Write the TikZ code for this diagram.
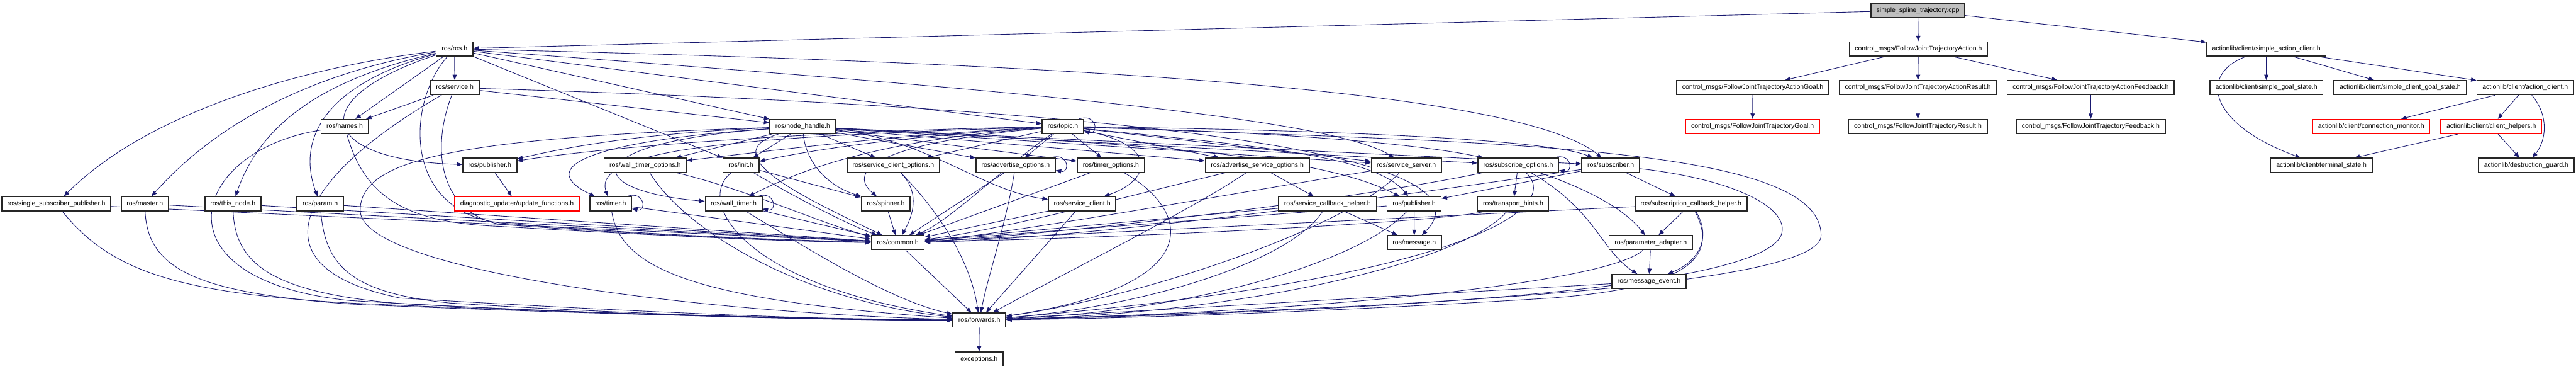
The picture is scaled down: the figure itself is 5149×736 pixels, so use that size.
\documentclass[tikz,border=0pt]{standalone}
\usepackage{fontspec}
\setmainfont{Liberation Sans}
\usetikzlibrary{arrows.meta,calc}
\definecolor{edgeblue}{HTML}{191970}
\pgfdeclarelayer{bg}
\pgfsetlayers{bg,main}
\begin{document}
\begin{tikzpicture}[x=0.25pt,y=0.25pt,
  box/.style={draw=black!85, line width=0.55pt, fill=white, minimum height=7pt, inner xsep=2.75pt, inner ysep=0pt,
    font=\fontsize{3.3pt}{4pt}\selectfont, text height=2.45pt, text depth=0.7pt},
  redbox/.style={box, draw=red},
  rootbox/.style={box, fill=black!25},
  e/.style={draw=edgeblue, line width=0.28pt, -{Triangle[length=2.7pt,width=2.1pt]}},
]
\useasboundingbox (0,0) rectangle (5149,-736);
% ---------- nodes ----------
\node[rootbox] (root) at (3833.5,-20.5) {simple\_spline\_trajectory.cpp};
\node[box] (ros) at (908.5,-97.5) {ros/ros.h};
\node[box] (fjta) at (3834.5,-97.5) {control\_msgs/FollowJointTrajectoryAction.h};
\node[box] (sac) at (4530,-97.5) {actionlib/client/simple\_action\_client.h};
\node[box] (service) at (909,-175) {ros/service.h};
\node[box] (agoal) at (3503.5,-175) {control\_msgs/FollowJointTrajectoryActionGoal.h};
\node[box] (aresult) at (3833.5,-175) {control\_msgs/FollowJointTrajectoryActionResult.h};
\node[box] (afeed) at (4179,-175) {control\_msgs/FollowJointTrajectoryActionFeedback.h};
\node[box] (sgs) at (4530,-175) {actionlib/client/simple\_goal\_state.h};
\node[box] (scgs) at (4797.5,-175) {actionlib/client/simple\_client\_goal\_state.h};
\node[box] (ac) at (5047.5,-175) {actionlib/client/action\_client.h};
\node[box] (names) at (689,-252.5) {ros/names.h};
\node[box] (nh) at (1604.5,-252.5) {ros/node\_handle.h};
\node[box] (topic) at (2124.5,-252.5) {ros/topic.h};
\node[redbox] (goal) at (3503,-252.5) {control\_msgs/FollowJointTrajectoryGoal.h};
\node[box] (result) at (3833.5,-252.5) {control\_msgs/FollowJointTrajectoryResult.h};
\node[box] (feed) at (4179,-252.5) {control\_msgs/FollowJointTrajectoryFeedback.h};
\node[redbox] (cm) at (4739.5,-252.5) {actionlib/client/connection\_monitor.h};
\node[redbox] (ch) at (4979.5,-252.5) {actionlib/client/client\_helpers.h};
\node[box] (pubA) at (979,-330) {ros/publisher.h};
\node[box] (wto) at (1289.5,-330) {ros/wall\_timer\_options.h};
\node[box] (init) at (1481,-330) {ros/init.h};
\node[box] (sco) at (1785.5,-330) {ros/service\_client\_options.h};
\node[box] (ao) at (2030,-330) {ros/advertise\_options.h};
\node[box] (tmo) at (2220.5,-330) {ros/timer\_options.h};
\node[box] (aso) at (2513,-330) {ros/advertise\_service\_options.h};
\node[box] (ss) at (2811,-330) {ros/service\_server.h};
\node[box] (so) at (3034.5,-330) {ros/subscribe\_options.h};
\node[box] (sub) at (3219.5,-330) {ros/subscriber.h};
\node[box] (ts) at (4640,-330) {actionlib/client/terminal\_state.h};
\node[box] (dg) at (5049.5,-330) {actionlib/destruction\_guard.h};
\node[box] (ssp) at (112.5,-407) {ros/single\_subscriber\_publisher.h};
\node[box] (master) at (289.5,-407) {ros/master.h};
\node[box] (thisnode) at (465.5,-407) {ros/this\_node.h};
\node[box] (param) at (640,-407) {ros/param.h};
\node[redbox] (diag) at (1033.5,-407) {diagnostic\_updater/update\_functions.h};
\node[box] (timer) at (1220.5,-407) {ros/timer.h};
\node[box] (wt) at (1466.5,-407) {ros/wall\_timer.h};
\node[box] (spinner) at (1770.5,-407) {ros/spinner.h};
\node[box] (sc) at (2163,-407) {ros/service\_client.h};
\node[box] (sch) at (2653.5,-407) {ros/service\_callback\_helper.h};
\node[box] (pubB) at (2826.5,-407) {ros/publisher.h};
\node[box] (th) at (3024.5,-407) {ros/transport\_hints.h};
\node[box] (scbh) at (3380,-407) {ros/subscription\_callback\_helper.h};
\node[box] (common) at (1794.5,-484.5) {ros/common.h};
\node[box] (msg) at (2827,-484.5) {ros/message.h};
\node[box] (pa) at (3299.5,-484.5) {ros/parameter\_adapter.h};
\node[box] (me) at (3296,-562) {ros/message\_event.h};
\node[box] (fwd) at (1957.5,-639) {ros/forwards.h};
\node[box] (exc) at (1957,-717) {exceptions.h};
% ---------- edges ----------
\begin{pgfonlayer}{bg}
\fill[white] (0,0) rectangle (5149,-736);
% top part
\draw[e] (root) -- (ros);
\draw[e] (root) -- (fjta);
\draw[e] (root) -- (sac);
\draw[e] (fjta) -- (agoal);
\draw[e] (fjta) -- (aresult);
\draw[e] (fjta) -- (afeed);
\draw[e] (agoal) -- (goal);
\draw[e] (aresult) -- (result);
\draw[e] (afeed) -- (feed);
\draw[e] (sac) -- (sgs);
\draw[e] (sac) -- (scgs);
\draw[e] (sac) -- (ac);
\draw[e] (sac) .. controls (4390,-150) and (4420,-250) .. (ts);
\draw[e] (ac) -- (cm);
\draw[e] (ac) -- (ch);
\draw[e] (ac) .. controls (5095,-230) and (5090,-280) .. (dg);
\draw[e] (ch) -- (ts);
\draw[e] (ch) -- (dg);
% ros.h
\draw[e] (ros) .. controls (560,-140) and (280,-240) .. (ssp);
\draw[e] (ros) .. controls (600,-150) and (420,-260) .. (master);
\draw[e] (ros) .. controls (640,-160) and (520,-250) .. (thisnode);
\draw[e] (ros) .. controls (660,-165) and (590,-270) .. (param);
\draw[e] (ros) -- (names);
\draw[e] (ros) -- (service);
\draw[e] (ros) .. controls (600,-200) and (640,-320) .. (pubA);
\draw[e] (ros) .. controls (815,-200) and (800,-420) .. (1000,-445) .. controls (1300,-470) and (1600,-480) .. (common);
\draw[e] (ros) -- (init);
\draw[e] (ros) -- (nh);
\draw[e] (ros) -- (topic);
\draw[e] (ros) .. controls (1900,-170) and (2650,-230) .. (ss);
\draw[e] (ros) .. controls (2300,-130) and (3050,-190) .. (sub);
% service.h
\draw[e] (service) -- (names);
\draw[e] (service) -- (nh);
\draw[e] (service) .. controls (2400,-220) and (2990,-320) .. (msg);
\draw[e] (service) .. controls (860,-300) and (880,-425) .. (1000,-448) .. controls (1300,-470) and (1600,-482) .. (common);
\draw[e] (service) .. controls (620,-340) and (480,-530) .. (800,-595) .. controls (1300,-625) and (1700,-640) .. (fwd);
% names.h
\draw[e] (names) .. controls (730,-400) and (820,-445) .. (1000,-452) .. controls (1300,-470) and (1600,-483) .. (common);
\draw[e] (names) .. controls (380,-300) and (300,-560) .. (700,-600) .. controls (1200,-630) and (1700,-640) .. (fwd);
% left row
\draw[e] (ssp) -- (common);
\draw[e] (master) -- (common);
\draw[e] (thisnode) -- (common);
\draw[e] (param) -- (common);
\draw[e] (ssp) .. controls (220,-540) and (350,-585) .. (700,-605) .. controls (1200,-628) and (1700,-637) .. (fwd);
\draw[e] (master) .. controls (295,-540) and (400,-585) .. (700,-607) .. controls (1200,-629) and (1700,-638) .. (fwd);
\draw[e] (thisnode) .. controls (470,-530) and (550,-585) .. (800,-606) .. controls (1250,-630) and (1700,-639) .. (fwd);
\draw[e] (param) .. controls (650,-530) and (700,-585) .. (900,-605) .. controls (1300,-630) and (1700,-640) .. (fwd);
% node_handle.h
\draw[e] (nh) .. controls (1300,-265) and (1150,-290) .. (pubA);
\draw[e] (nh) -- (wto);
\draw[e] (nh) -- (init);
\draw[e] (nh) -- (sco);
\draw[e] (nh) .. controls (1200,-280) and (1060,-330) .. (timer);
\draw[e] (nh) .. controls (1150,-285) and (1160,-380) .. (wt);
\draw[e] (nh) .. controls (1420,-310) and (1620,-400) .. (common);
\draw[e] (nh) .. controls (1610,-320) and (1650,-370) .. (spinner);
\draw[e] (nh) .. controls (900,-275) and (720,-320) .. (720,-420) .. controls (720,-540) and (1400,-625) .. (fwd);
\draw[e] (nh) -- (ao);
\draw[e] (nh) -- (tmo);
\draw[e] (nh) -- (aso);
\draw[e] (nh) -- (ss);
\draw[e] (nh) -- (so);
\draw[e] (nh) -- (sub);
\draw[e] (nh) .. controls (1860,-280) and (1960,-380) .. (sc);
\draw[e] (nh) .. controls (2200,-285) and (2620,-300) .. (pubB);
% topic.h
\draw[e] ($(topic.north east)+(-10,0)$) .. controls +(35,12) and +(30,-6) .. ($(topic.south east)+(0,5)$);
\draw[e] (topic) .. controls (1600,-262) and (1200,-295) .. (pubA);
\draw[e] (topic) .. controls (1800,-268) and (1550,-300) .. (wto);
\draw[e] (topic) .. controls (1800,-272) and (1620,-300) .. (init);
\draw[e] (topic) -- (sco);
\draw[e] (topic) .. controls (1500,-272) and (1180,-295) .. (timer);
\draw[e] (topic) .. controls (1750,-280) and (1600,-340) .. (wt);
\draw[e] (topic) .. controls (1760,-285) and (1690,-340) .. (spinner);
\draw[e] (topic) -- (ao);
\draw[e] (topic) -- (tmo);
\draw[e] (topic) -- (aso);
\draw[e] (topic) -- (ss);
\draw[e] (topic) .. controls (2600,-265) and (2850,-290) .. (so);
\draw[e] (topic) .. controls (2700,-260) and (3100,-280) .. (sub);
\draw[e] (topic) .. controls (2320,-290) and (2300,-360) .. (sc);
\draw[e] (topic) .. controls (2500,-290) and (2750,-310) .. (pubB);
\draw[e] (topic) .. controls (2010,-330) and (1900,-440) .. (common);
\draw[e] (topic) .. controls (3000,-285) and (3640,-290) .. (3640,-470) .. controls (3640,-560) and (3000,-610) .. (fwd);
% row 4
\draw[e] (pubA) -- (diag);
\draw[e] (wto) .. controls (1500,-380) and (1650,-450) .. (common);
\draw[e] (wto) .. controls (1370,-460) and (1600,-600) .. (fwd);
\draw[e] (init) -- (spinner);
\draw[e] (init) .. controls (1600,-400) and (1700,-450) .. (common);
\draw[e] (init) .. controls (1390,-400) and (1480,-570) .. (fwd);
\draw[e] (sco) .. controls (1835,-380) and (1830,-420) .. (common);
\draw[e] (sco) .. controls (1875,-420) and (1940,-520) .. (fwd);
\draw[e] ($(ao.north east)+(-10,0)$) .. controls +(35,12) and +(30,-6) .. ($(ao.south east)+(0,5)$);
\draw[e] (ao) -- (common);
\draw[e] (ao) .. controls (2010,-450) and (1975,-550) .. (fwd);
\draw[e] (tmo) -- (common);
\draw[e] (tmo) .. controls (2380,-420) and (2420,-570) .. (fwd);
\draw[e] (aso) -- (sch);
\draw[e] (aso) .. controls (2300,-380) and (2000,-460) .. (common);
\draw[e] (aso) .. controls (2380,-420) and (2100,-560) .. (fwd);
\draw[e] (ss) .. controls (2500,-380) and (2000,-470) .. (common);
\draw[e] (ss) .. controls (2700,-450) and (2300,-590) .. (fwd);
\draw[e] ($(so.north east)+(-10,0)$) .. controls +(35,12) and +(30,-6) .. ($(so.south east)+(0,5)$);
\draw[e] (so) -- (th);
\draw[e] (so) .. controls (3180,-380) and (3250,-420) .. (pa);
\draw[e] (so) .. controls (3190,-420) and (3200,-500) .. (me);
\draw[e] (so) .. controls (3130,-420) and (2900,-560) .. (fwd);
\draw[e] (so) .. controls (2700,-400) and (2100,-470) .. (common);
\draw[e] (sub) -- (scbh);
\draw[e] (sub) -- (pubB);
\draw[e] (sub) .. controls (2800,-390) and (2200,-475) .. (common);
\draw[e] (sub) .. controls (3480,-360) and (3580,-420) .. (3560,-470) .. controls (3520,-560) and (3000,-615) .. (fwd);
% row 5
\draw[e] ($(timer.north east)+(-10,0)$) .. controls +(35,12) and +(30,-6) .. ($(timer.south east)+(0,5)$);
\draw[e] (timer) -- (common);
\draw[e] (timer) .. controls (1240,-540) and (1400,-600) .. (fwd);
\draw[e] ($(wt.north east)+(-10,0)$) .. controls +(35,12) and +(30,-6) .. ($(wt.south east)+(0,5)$);
\draw[e] (wt) -- (common);
\draw[e] (wt) .. controls (1620,-500) and (1780,-600) .. (fwd);
\draw[e] (spinner) -- (common);
\draw[e] (sc) -- (common);
\draw[e] (sc) -- (fwd);
\draw[e] (sch) -- (msg);
\draw[e] (sch) -- (common);
\draw[e] (sch) .. controls (2580,-520) and (2300,-610) .. (fwd);
\draw[e] (pubB) -- (msg);
\draw[e] (pubB) -- (common);
\draw[e] (pubB) .. controls (2720,-520) and (2400,-620) .. (fwd);
\draw[e] (th) .. controls (2900,-440) and (2400,-470) .. (common);
\draw[e] (th) .. controls (2930,-520) and (2500,-625) .. (fwd);
\draw[e] (scbh) -- (pa);
\draw[e] (scbh) .. controls (3420,-470) and (3400,-520) .. (me);
\draw[e] (scbh) -- (common);
\draw[e] (scbh) .. controls (3440,-520) and (3360,-575) .. (3100,-595) .. controls (2700,-620) and (2300,-635) .. (fwd);
% bottom
\draw[e] (common) -- (fwd);
\draw[e] (pa) -- (me);
\draw[e] (pa) .. controls (3220,-560) and (2700,-620) .. (fwd);
\draw[e] (me) -- (fwd);
\draw[e] (fwd) -- (exc);
\end{pgfonlayer}
\end{tikzpicture}
\end{document}
